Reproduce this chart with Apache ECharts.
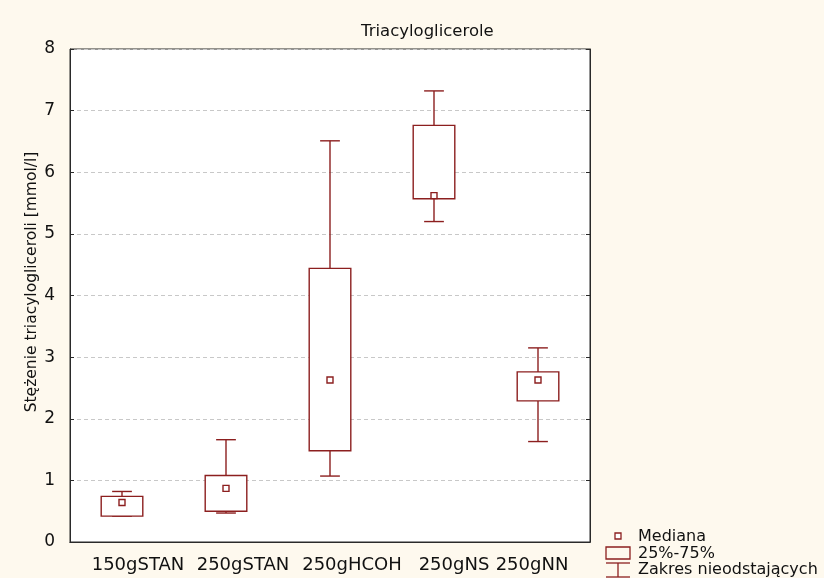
<!DOCTYPE html>
<html>
<head>
<meta charset="utf-8">
<script src="https://cdn.jsdelivr.net/npm/echarts@6/dist/echarts.min.js"></script>
<style>
  html, body { margin: 0; padding: 0; background: #fef9ee; }
  #chart { width: 824px; height: 578px; }
</style>
</head>
<body>
<div id="chart"></div>
<script>
// Triacylglycerol concentration per group: non-outlier range, quartile box, median
const categories = ['150gSTAN', '250gSTAN', '250gHCOH', '250gNS', '250gNN'];
const whiskerLow  = [0.42, 0.47, 1.07, 5.20, 1.63];
const quartile1   = [0.42, 0.50, 1.48, 5.57, 2.29];
const medians     = [0.64, 0.87, 2.63, 5.62, 2.63];
const quartile3   = [0.74, 1.08, 4.44, 6.76, 2.76];
const whiskerHigh = [0.82, 1.66, 6.51, 7.32, 3.15];
const yTicks = [0, 1, 2, 3, 4, 5, 6, 7, 8];

const FONT = 'DejaVu Sans';
const MARK = '#8c1f1f';
const TEXT = '#111111';

// per-label horizontal nudges of the category labels (px)
const labelShift = [16, 17, 22, 20, -6];

const boxData = categories.map((c, i) => [i, whiskerLow[i], quartile1[i], medians[i], quartile3[i], whiskerHigh[i]]);

function renderBox(params, api) {
  const i = api.value(0);
  const band = api.size([1, 0])[0];
  const boxHalf = band * 0.2;
  const capHalf = band * 0.095;
  const pLow = api.coord([i, api.value(1)]);
  const pQ1 = api.coord([i, api.value(2)]);
  const pMed = api.coord([i, api.value(3)]);
  const pQ3 = api.coord([i, api.value(4)]);
  const pHigh = api.coord([i, api.value(5)]);
  const x = pQ1[0];
  const lineStyle = { stroke: MARK, lineWidth: 1.4, fill: null };
  return {
    type: 'group',
    children: [
      { type: 'line', shape: { x1: x, y1: pHigh[1], x2: x, y2: pQ3[1] }, style: lineStyle },
      { type: 'line', shape: { x1: x - capHalf, y1: pHigh[1], x2: x + capHalf, y2: pHigh[1] }, style: lineStyle },
      { type: 'line', shape: { x1: x, y1: pQ1[1], x2: x, y2: pLow[1] }, style: lineStyle },
      { type: 'line', shape: { x1: x - capHalf, y1: pLow[1], x2: x + capHalf, y2: pLow[1] }, style: lineStyle },
      { type: 'rect', shape: { x: x - boxHalf, y: pQ3[1], width: boxHalf * 2, height: pQ1[1] - pQ3[1] },
        style: { stroke: MARK, lineWidth: 1.4, fill: '#ffffff' } },
      { type: 'rect', shape: { x: x - 3, y: pMed[1] - 3, width: 6, height: 6 },
        style: { stroke: MARK, lineWidth: 1.4, fill: '#ffffff' } }
    ]
  };
}

const rich = {};
labelShift.forEach((s, i) => {
  rich['c' + i] = {
    fontFamily: FONT, fontSize: 18, color: TEXT,
    padding: s >= 0 ? [0, 0, 0, 2 * s] : [0, -2 * s, 0, 0]
  };
});

const chart = echarts.init(document.getElementById('chart'));
chart.setOption({
  backgroundColor: '#fef9ee',
  animation: false,
  title: {
    text: 'Triacyloglicerole',
    left: 356, top: 18,
    textStyle: { fontFamily: FONT, fontSize: 16.5, fontWeight: 'normal', color: TEXT }
  },
  grid: {
    left: 70, right: 234, top: 49, bottom: 36,
    show: true, backgroundColor: '#ffffff', borderColor: '#2a2a2a', borderWidth: 1
  },
  xAxis: [{
    type: 'category',
    data: categories,
    boundaryGap: true,
    axisLine: { lineStyle: { color: '#2a2a2a', width: 1 } },
    axisTick: { inside: true, alignWithLabel: true, length: 4, lineStyle: { color: '#2a2a2a' } },
    axisLabel: {
      margin: 14,
      interval: 0,
      formatter: (v, i) => '{c' + i + '|' + v + '}',
      rich: rich
    },
    splitLine: { show: false }
  }, {
    type: 'category',
    data: categories,
    position: 'top',
    boundaryGap: true,
    axisLine: { lineStyle: { color: '#2a2a2a', width: 1 } },
    axisTick: { inside: true, alignWithLabel: true, length: 4, lineStyle: { color: '#2a2a2a' } },
    axisLabel: { show: false },
    splitLine: { show: false }
  }],
  yAxis: [{
    type: 'value',
    min: yTicks[0], max: yTicks[yTicks.length - 1], interval: 1,
    name: 'Stężenie triacylogliceroli [mmol/l]',
    nameLocation: 'middle',
    nameGap: 30,
    nameRotate: 90,
    nameMoveOverlap: false,
    nameTextStyle: { fontFamily: FONT, fontSize: 15.5, color: TEXT, padding: [0, 0, 0, 27] },
    axisLine: { show: true, lineStyle: { color: '#2a2a2a', width: 1 } },
    axisTick: { show: true, inside: true, length: 4, lineStyle: { color: '#2a2a2a' } },
    axisLabel: { margin: 15, fontFamily: FONT, fontSize: 17, color: TEXT },
    splitLine: { show: true, lineStyle: { color: '#c8c8c8', type: [4, 3], width: 1 } }
  }, {
    type: 'value',
    position: 'right',
    min: yTicks[0], max: yTicks[yTicks.length - 1], interval: 1,
    axisLine: { show: true, lineStyle: { color: '#2a2a2a', width: 1 } },
    axisTick: { show: true, inside: true, length: 4, lineStyle: { color: '#2a2a2a' } },
    axisLabel: { show: false },
    splitLine: { show: false }
  }],
  series: [{
    type: 'custom',
    name: 'Triacyloglicerole',
    xAxisIndex: 0,
    yAxisIndex: 0,
    renderItem: renderBox,
    encode: { x: 0, y: [1, 2, 3, 4, 5] },
    data: boxData,
    z: 5
  }],
  graphic: [
    // legend: median marker
    { type: 'rect', shape: { x: 615, y: 533, width: 6, height: 6 },
      style: { stroke: MARK, lineWidth: 1.3, fill: '#ffffff' } },
    { type: 'text', x: 638, y: 537, style: { text: 'Mediana', font: '16px "DejaVu Sans"', fill: TEXT, verticalAlign: 'middle' } },
    // legend: quartile box
    { type: 'rect', shape: { x: 606, y: 547, width: 24, height: 12 },
      style: { stroke: MARK, lineWidth: 1.3, fill: null } },
    { type: 'text', x: 638, y: 554, style: { text: '25%-75%', font: '16px "DejaVu Sans"', fill: TEXT, verticalAlign: 'middle' } },
    // legend: non-outlier range
    { type: 'line', shape: { x1: 606, y1: 563, x2: 630, y2: 563 }, style: { stroke: MARK, lineWidth: 1.3 } },
    { type: 'line', shape: { x1: 618, y1: 563, x2: 618, y2: 577 }, style: { stroke: MARK, lineWidth: 1.3 } },
    { type: 'line', shape: { x1: 606, y1: 577, x2: 630, y2: 577 }, style: { stroke: MARK, lineWidth: 1.3 } },
    { type: 'text', x: 638, y: 570, style: { text: 'Zakres nieodstających', font: '16px "DejaVu Sans"', fill: TEXT, verticalAlign: 'middle' } }
  ]
});
</script>
</body>
</html>
